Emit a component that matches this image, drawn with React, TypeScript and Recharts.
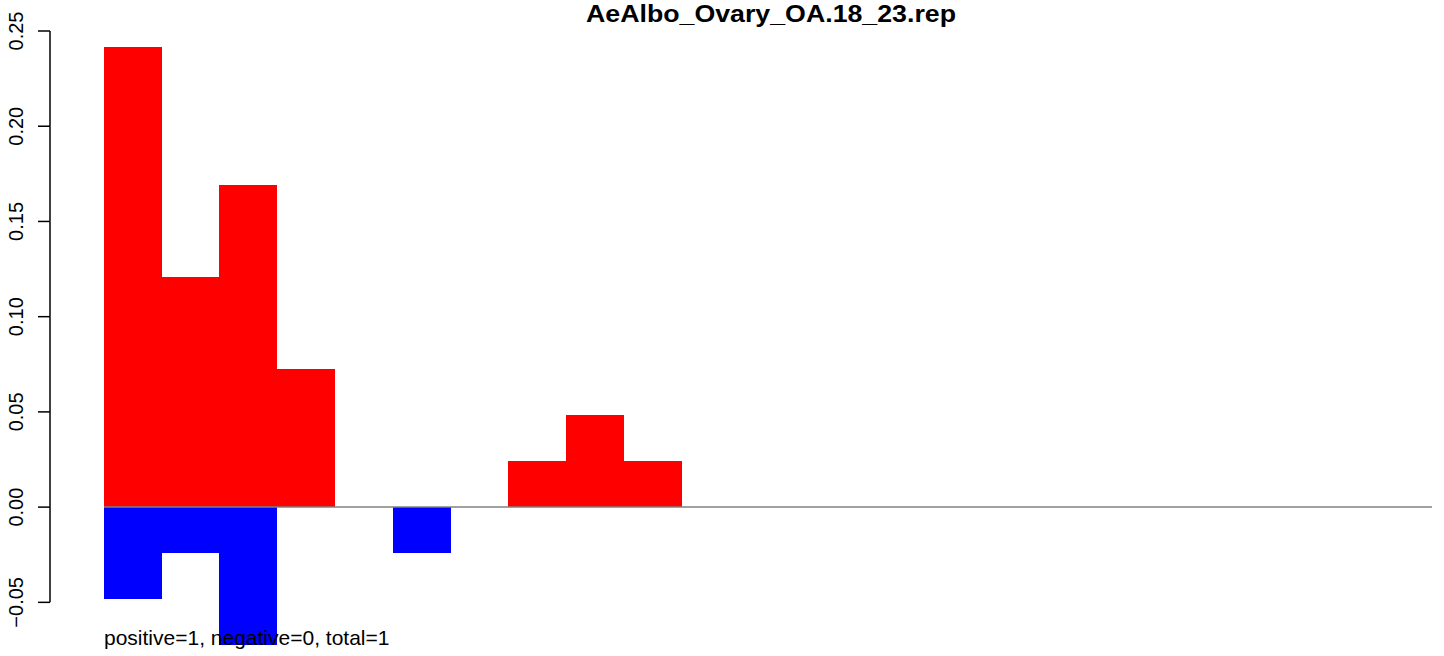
import React from 'react';
import { BarChart, Bar, XAxis, YAxis, ReferenceLine } from 'recharts';

const bins = ['1', '2', '3', '4', '5', '6', '7', '8', '9', '10', '11', '12', '13', '14', '15', '16', '17', '18', '19', '20', '21', '22', '23'];
const positive = [0.2414, 0.1207, 0.169, 0.0724, 0, 0, 0, 0.0241, 0.0483, 0.0241, 0, 0, 0, 0, 0, 0, 0, 0, 0, 0, 0, 0, 0];
const negative = [-0.0483, -0.0241, -0.0724, 0, 0, -0.0241, 0, 0, 0, 0, 0, 0, 0, 0, 0, 0, 0, 0, 0, 0, 0, 0, 0];
const yTicks = [-0.05, 0, 0.05, 0.1, 0.15, 0.2, 0.25];

const data = bins.map((bin, i) => ({ bin, pos: positive[i], neg: negative[i] }));
const yMin = Math.min(...negative);

const font = '"Liberation Sans", Arial, sans-serif';

// R style axis: line only between first and last tick, offset from the bars
let prevY: number | null = null;
const RTick = (props: any) => {
  const { x, y, payload, index } = props;
  if (index === 0) prevY = null;
  const axisX = x - 54;
  const seg = prevY !== null ? <line x1={axisX} x2={axisX} y1={prevY} y2={y} stroke="#000" strokeWidth={1.5} /> : null;
  prevY = y;
  return (
    <g>
      {seg}
      <line x1={axisX - 12} x2={axisX} y1={y} y2={y} stroke="#000" strokeWidth={1.5} />
      <text
        x={x - 81}
        y={y}
        transform={`rotate(-90, ${x - 81}, ${y})`}
        textAnchor="middle"
        fontFamily={font}
        fontSize={20}
        fill="#000"
      >
        {payload.value.toFixed(2).replace('-', '\u2212')}
      </text>
    </g>
  );
};

export default function App() {
  return (
    <div style={{ position: 'absolute', left: 0, top: 0, width: 1444, height: 656, background: '#fff' }}>
      <BarChart
        width={1444}
        height={656}
        data={data}
        margin={{ top: 31, right: 12, bottom: 11, left: 0 }}
        barCategoryGap={0}
        barGap={0}
        stackOffset="sign"
      >
        <XAxis dataKey="bin" hide />
        <YAxis
          type="number"
          domain={[yMin, 0.25]}
          ticks={yTicks}
          width={104}
          axisLine={false}
          tickLine={false}
          tickSize={0}
          tickMargin={0}
          interval={0}
          tick={RTick}
        />
        <Bar dataKey="pos" stackId="a" fill="#ff0000" isAnimationActive={false} shapeRendering="crispEdges" />
        <Bar dataKey="neg" stackId="a" fill="#0000ff" isAnimationActive={false} shapeRendering="crispEdges" />
        <ReferenceLine y={0} stroke="#808080" strokeWidth={1.5} />
      </BarChart>
      <svg width={1444} height={30} style={{ position: 'absolute', left: 0, top: 0 }}>
        <text
          x={771}
          y={22}
          textAnchor="middle"
          fontFamily={font}
          fontWeight="bold"
          fontSize={24}
          textLength={370}
          lengthAdjust="spacingAndGlyphs"
          fill="#000"
        >
          AeAlbo_Ovary_OA.18_23.rep
        </text>
      </svg>
      <div
        style={{
          position: 'absolute',
          left: 104,
          top: 626,
          fontFamily: font,
          fontSize: 21,
          lineHeight: '24px',
          whiteSpace: 'nowrap',
        }}
      >
        positive=1, negative=0, total=1
      </div>
    </div>
  );
}
